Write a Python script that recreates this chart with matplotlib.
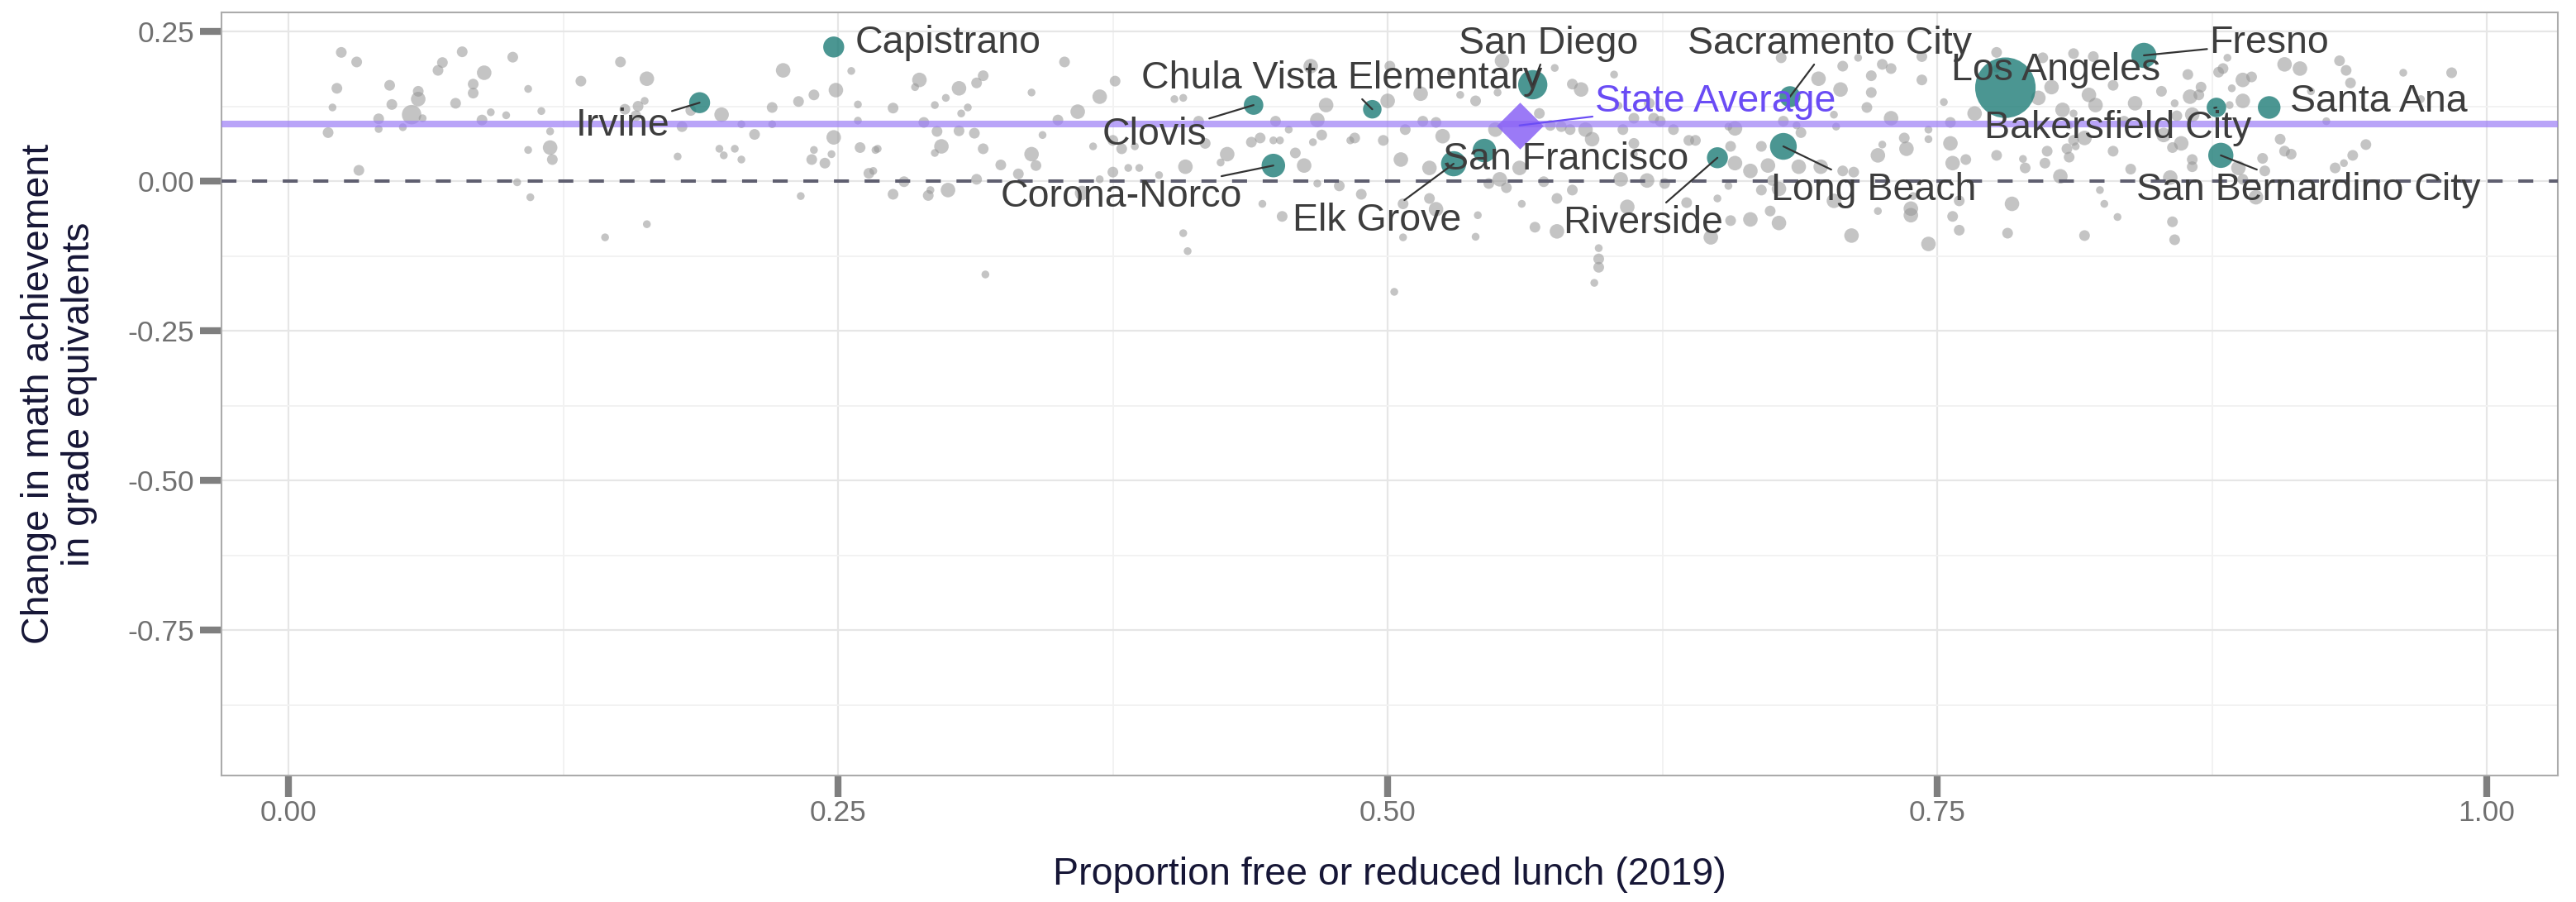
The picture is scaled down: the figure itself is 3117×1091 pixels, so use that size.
import numpy as np
import matplotlib
matplotlib.use("Agg")
import matplotlib.pyplot as plt

plt.rcParams['font.family'] = ['Liberation Sans', 'DejaVu Sans']

# highlighted districts: proportion FRL (2019), change in math (grade equivalents), enrollment (k)
names = ["Irvine", "Capistrano", "Clovis", "Chula Vista Elementary", "Corona-Norco",
         "San Diego", "Elk Grove", "San Francisco", "Riverside", "Sacramento City",
         "Long Beach", "Los Angeles", "Fresno", "Bakersfield City", "Santa Ana",
         "San Bernardino City"]
hl_frl = [0.187, 0.248, 0.439, 0.493, 0.448, 0.566, 0.530, 0.544, 0.650, 0.683,
          0.680, 0.781, 0.844, 0.877, 0.901, 0.879]
hl_change = [0.131, 0.224, 0.127, 0.120, 0.026, 0.161, 0.029, 0.051, 0.039, 0.141,
             0.058, 0.156, 0.210, 0.123, 0.123, 0.043]
hl_enroll = [65, 65, 55, 49, 84, 134, 97, 84, 65, 65, 111, 600, 97, 55, 77, 97]

# state average
state_frl = 0.560
state_change = 0.093
state_line = 0.095

# all other districts
grey_frl = [
    0.024, 0.031, 0.022, 0.020, 0.018, 0.032, 0.046, 0.047, 0.041, 0.041, 0.052, 0.059, 0.059, 0.056, 0.061, 0.070, 0.068,
    0.079, 0.089, 0.102, 0.084, 0.084, 0.109, 0.076, 0.088, 0.092, 0.099, 0.115, 0.119, 0.119, 0.120, 0.109, 0.104, 0.110,
    0.133, 0.151, 0.163, 0.162, 0.159, 0.153, 0.158, 0.183, 0.179, 0.197, 0.206, 0.212, 0.220, 0.177, 0.196, 0.198, 0.203,
    0.206, 0.144, 0.163,
    0.225, 0.220, 0.232, 0.239, 0.249, 0.256, 0.259, 0.275, 0.259, 0.248, 0.260, 0.267, 0.239, 0.247, 0.238, 0.244, 0.264,
    0.266, 0.280, 0.275, 0.233, 0.287, 0.305, 0.316, 0.313, 0.285, 0.299, 0.294, 0.309, 0.306, 0.289, 0.295, 0.305, 0.312,
    0.268, 0.297, 0.316, 0.294, 0.291, 0.292, 0.300, 0.313, 0.317,
    0.353, 0.338, 0.359, 0.369, 0.376, 0.350, 0.343, 0.338, 0.324, 0.340, 0.332, 0.366, 0.375, 0.379, 0.385, 0.382, 0.387,
    0.375, 0.369, 0.396, 0.408, 0.361, 0.407, 0.409, 0.443, 0.403, 0.407, 0.414, 0.427, 0.424, 0.417, 0.449, 0.455, 0.442,
    0.438, 0.448, 0.451, 0.458, 0.452,
    0.465, 0.462, 0.472, 0.468, 0.470, 0.466, 0.483, 0.485, 0.498, 0.500, 0.501, 0.508, 0.515, 0.516, 0.522, 0.525, 0.506,
    0.519, 0.519, 0.522, 0.488, 0.478, 0.468, 0.507, 0.507, 0.503, 0.541, 0.540, 0.533, 0.529, 0.540, 0.552, 0.550, 0.549,
    0.560, 0.551, 0.546, 0.554, 0.561, 0.567, 0.577, 0.571, 0.577, 0.584, 0.569, 0.574, 0.579, 0.583, 0.588, 0.584, 0.576,
    0.593, 0.590,
    0.603, 0.605, 0.596, 0.596, 0.596, 0.594, 0.607, 0.612, 0.606, 0.612, 0.609, 0.618, 0.626, 0.612, 0.621, 0.619, 0.640,
    0.630, 0.624, 0.647, 0.679, 0.707, 0.714, 0.725, 0.729, 0.743, 0.743, 0.720, 0.720, 0.696, 0.706, 0.718, 0.729, 0.703,
    0.704, 0.688, 0.686, 0.680, 0.658, 0.655, 0.637, 0.656, 0.670, 0.658, 0.665, 0.673, 0.687, 0.697, 0.707, 0.712, 0.703,
    0.678, 0.670, 0.675, 0.655, 0.650, 0.636, 0.656, 0.665, 0.674, 0.678, 0.711, 0.723, 0.738, 0.738, 0.746, 0.739,
    0.757, 0.760, 0.760, 0.782, 0.784, 0.817, 0.824, 0.757, 0.756, 0.763, 0.777, 0.746, 0.735, 0.736, 0.723, 0.725, 0.746,
    0.756, 0.767, 0.753, 0.777, 0.777, 0.789, 0.790, 0.799, 0.800, 0.806, 0.809, 0.810, 0.813, 0.810, 0.812, 0.807, 0.812,
    0.796, 0.802, 0.812, 0.798, 0.821, 0.819, 0.822, 0.817, 0.826, 0.830, 0.835, 0.840, 0.830, 0.838, 0.832,
    0.864, 0.880, 0.878, 0.882, 0.852, 0.865, 0.858, 0.869, 0.870, 0.884, 0.889, 0.893, 0.889, 0.883, 0.859, 0.866, 0.861,
    0.853, 0.857, 0.866, 0.866, 0.887, 0.889, 0.895, 0.899, 0.906, 0.908, 0.911, 0.898, 0.856, 0.857, 0.858, 0.908, 0.915,
    0.933, 0.936, 0.938, 0.962, 0.984, 0.927, 0.945, 0.939, 0.935, 0.931, 0.970, 0.920,
]
grey_change = [
    0.215, 0.199, 0.155, 0.123, 0.081, 0.018, 0.160, 0.128, 0.104, 0.087, 0.090, 0.150, 0.137, 0.111, 0.105, 0.198, 0.185,
    0.216, 0.181, 0.207, 0.162, 0.147, 0.154, 0.130, 0.102, 0.115, 0.110, 0.117, 0.083, 0.056, 0.036, 0.052, -0.002, -0.027,
    0.167, 0.199, 0.171, 0.134, 0.125, 0.120, 0.109, 0.118, 0.091, 0.111, 0.095, 0.078, 0.095, 0.041, 0.054, 0.043, 0.054,
    0.036, -0.094, -0.072,
    0.185, 0.123, 0.133, 0.144, 0.152, 0.184, 0.128, 0.122, 0.101, 0.073, 0.056, 0.052, 0.052, 0.045, 0.036, 0.030, 0.013,
    0.017, -0.001, -0.022, -0.025, 0.169, 0.155, 0.176, 0.164, 0.157, 0.139, 0.127, 0.123, 0.113, 0.098, 0.083, 0.084, 0.080,
    0.054, 0.058, 0.054, 0.047, -0.024, -0.015, -0.015, 0.003, -0.156,
    0.199, 0.148, 0.116, 0.141, 0.167, 0.102, 0.077, 0.045, 0.027, 0.026, 0.012, 0.058, 0.068, 0.054, 0.058, 0.022, 0.022,
    0.015, 0.003, 0.010, 0.024, -0.020, -0.087, -0.117, -0.038, 0.137, 0.139, 0.100, 0.045, 0.031, 0.063, 0.100, 0.086, 0.072,
    0.065, 0.068, 0.068, 0.047, -0.059,
    0.192, 0.026, 0.127, 0.102, 0.077, 0.065, 0.068, 0.072, 0.068, 0.134, 0.192, 0.086, 0.146, 0.100, 0.098, 0.075, 0.036,
    0.022, -0.029, -0.047, -0.022, -0.008, -0.004, -0.038, -0.094, -0.185, -0.057, -0.093, 0.144, 0.181, 0.134, 0.201, 0.148,
    0.086, 0.022, 0.003, -0.004, -0.011, -0.038, -0.077, -0.084, -0.001, -0.029, -0.015, 0.113, 0.093, 0.091, 0.086, 0.153,
    0.162, 0.189, 0.070, 0.086,
    0.178, 0.126, -0.112, -0.130, -0.144, -0.170, 0.086, 0.063, 0.003, 0.045, -0.043, 0.001, -0.004, 0.105, 0.105, 0.130,
    0.068, 0.086, 0.100, -0.094, 0.206, 0.192, 0.206, 0.195, 0.188, 0.208, 0.169, 0.176, 0.148, 0.171, 0.153, 0.123, 0.105,
    0.111, 0.091, 0.081, 0.093, 0.100, 0.088, 0.091, 0.068, 0.058, 0.058, 0.030, 0.017, 0.026, 0.024, 0.024, 0.017, 0.015,
    -0.033, -0.013, -0.015, 0.001, -0.008, -0.029, -0.036, -0.066, -0.064, -0.050, -0.070, -0.091, -0.050, -0.046, -0.057,
    -0.105, -0.025,
    -0.059, -0.082, -0.033, -0.087, -0.038, -0.091, -0.015, 0.030, 0.063, 0.036, 0.043, 0.070, 0.072, 0.054, 0.043, 0.061,
    0.086, 0.098, 0.113, 0.132, 0.215, 0.188, 0.037, 0.022, 0.030, 0.050, 0.008, 0.054, 0.040, 0.058, 0.093, 0.068, 0.119,
    0.113, 0.139, 0.157, 0.213, 0.206, 0.208, 0.144, 0.127, 0.072, -0.038, 0.160, 0.100, 0.130, 0.050, 0.020, -0.060,
    0.178, 0.188, 0.182, 0.206, 0.150, 0.141, 0.130, 0.144, 0.157, 0.155, 0.169, 0.174, 0.134, 0.127, 0.109, 0.111, 0.063,
    0.077, 0.056, 0.036, 0.024, 0.022, 0.003, -0.027, 0.017, 0.070, 0.050, 0.045, 0.038, 0.006, -0.068, -0.098, 0.195, 0.188,
    0.201, 0.185, 0.164, 0.181, 0.181, 0.100, 0.061, 0.043, 0.030, 0.022, 0.137, 0.150,
]
grey_enroll = [
    11, 11, 11, 2, 11, 11, 11, 11, 11, 2, 2, 11, 27, 55, 2, 11, 11,
    11, 27, 11, 11, 11, 2, 11, 11, 2, 2, 2, 2, 27, 11, 2, 2, 2,
    11, 11, 27, 2, 11, 11, 11, 11, 11, 27, 2, 11, 2, 2, 2, 2, 2,
    2, 2, 2,
    27, 11, 11, 11, 27, 2, 2, 11, 2, 27, 11, 2, 2, 2, 11, 11, 11,
    2, 11, 11, 2, 27, 27, 11, 11, 2, 2, 2, 2, 2, 11, 11, 11, 11,
    2, 27, 11, 2, 11, 2, 27, 11, 2,
    11, 2, 27, 27, 11, 11, 2, 27, 11, 11, 11, 2, 11, 11, 2, 2, 2,
    11, 2, 2, 27, 27, 2, 2, 2, 2, 2, 11, 27, 2, 11, 11, 2, 11,
    11, 2, 2, 11, 11,
    27, 27, 27, 27, 11, 2, 2, 11, 11, 27, 11, 11, 27, 11, 11, 27, 27,
    27, 11, 27, 11, 11, 2, 11, 2, 2, 2, 2, 2, 2, 11, 27, 2, 27,
    27, 27, 11, 11, 2, 11, 27, 11, 11, 11, 11, 11, 11, 11, 27, 11, 2,
    27, 27,
    2, 2, 2, 11, 11, 2, 11, 11, 27, 2, 27, 27, 11, 11, 11, 11, 11,
    11, 11, 27, 11, 11, 2, 11, 11, 11, 11, 11, 11, 27, 27, 11, 27, 2,
    2, 11, 2, 11, 27, 2, 11, 11, 11, 27, 27, 27, 27, 27, 11, 11, 27,
    27, 11, 11, 2, 2, 11, 11, 27, 11, 27, 27, 2, 27, 27, 27, 2,
    11, 11, 11, 11, 27, 11, 2, 27, 27, 11, 11, 2, 11, 27, 27, 2, 2,
    11, 27, 2, 11, 2, 2, 11, 11, 11, 27, 11, 11, 2, 2, 11, 27, 2,
    27, 27, 11, 11, 11, 27, 27, 27, 2, 11, 11, 27, 11, 11, 2,
    11, 11, 11, 2, 11, 27, 2, 11, 11, 2, 27, 11, 27, 2, 11, 27, 27,
    27, 11, 11, 11, 27, 11, 27, 11, 11, 11, 11, 11, 27, 11, 11, 27, 27,
    11, 11, 11, 2, 11, 2, 11, 11, 2, 11, 2, 2,
]

# label placement (text centre) and whether a leader line is drawn
label_x = [0.152, 0.300, 0.394, 0.479, 0.379, 0.573, 0.495, 0.581, 0.616, 0.701,
           0.721, 0.804, 0.901, 0.832, 0.951, 0.919]
label_y = [0.092, 0.231, 0.077, 0.171, -0.026, 0.229, -0.066, 0.036, -0.070, 0.229,
           -0.015, 0.185, 0.231, 0.088, 0.132, -0.015]
label_leader = [True, False, True, True, True, True, True, False, True, True,
                True, False, True, True, False, True]

DPI = 100
W, H = 3117, 1091


def enroll_to_s(e):
    # marker area grows with enrollment (diameter in px -> area in pt^2)
    d_px = np.sqrt(8.5 ** 2 + 8.8 * np.asarray(e, dtype=float))
    return (d_px * 72 / DPI) ** 2


fig = plt.figure(figsize=(W / DPI, H / DPI), dpi=DPI)
ax = fig.add_axes([268 / W, 1 - 938 / H, (3095 - 268) / W, (938 - 15) / H])

ax.set_xlim(-0.0305, 1.0323)
ax.set_ylim(-0.993, 0.2818)

ax.set_xticks([0, 0.25, 0.5, 0.75, 1.0])
ax.set_xticklabels(["0.00", "0.25", "0.50", "0.75", "1.00"])
ax.set_xticks([0.125, 0.375, 0.625, 0.875], minor=True)
ax.set_yticks([-0.75, -0.5, -0.25, 0, 0.25])
ax.set_yticklabels(["-0.75", "-0.50", "-0.25", "0.00", "0.25"])
ax.set_yticks([-0.875, -0.625, -0.375, -0.125, 0.125], minor=True)

ax.grid(which='major', color='#e6e6e6', lw=1.6, zorder=0)
ax.grid(which='minor', color='#f2f2f2', lw=1.4, zorder=0)
ax.set_axisbelow(True)

ax.tick_params(axis='both', which='major', length=18.7, width=6, color='#7f7f7f',
               labelsize=25.5, labelcolor='#707070')
ax.tick_params(axis='y', which='major', pad=5)
ax.tick_params(axis='x', which='major', pad=2)
ax.tick_params(which='minor', length=0)

for sp in ax.spines.values():
    sp.set_color('#ababab')
    sp.set_linewidth(1.5)

# other districts
ax.scatter(grey_frl, grey_change, s=enroll_to_s(grey_enroll), color='#959595',
           alpha=0.55, linewidths=0, zorder=2)

# reference lines
ax.axhline(0, color='#5f5f70', lw=2.9, ls=(0, (4.5, 4.7)), zorder=3)
ax.axhline(state_line, color='#9c7ef6', alpha=0.7, lw=5.8, zorder=3)

# highlighted districts
ax.scatter(hl_frl, hl_change, s=enroll_to_s(hl_enroll), color='#237f7a',
           alpha=0.82, linewidths=0, zorder=4)

# state average diamond
ax.scatter([state_frl], [state_change], marker='D', s=(40 * 72 / DPI) ** 2,
           color='#8a63f5', alpha=0.85, linewidths=0, zorder=5)

for i, name in enumerate(names):
    arrow = dict(arrowstyle='-', color='#333333', lw=1.6, shrinkA=0, shrinkB=0) if label_leader[i] else None
    ax.annotate(name, xy=(hl_frl[i], hl_change[i]), xytext=(label_x[i], label_y[i]),
                ha='center', va='center', fontsize=33.5, color='#3d3d3d',
                arrowprops=arrow, zorder=6)

ax.annotate("State Average", xy=(state_frl, state_change), xytext=(0.649, 0.1326),
            ha='center', va='center', fontsize=33.5, color='#6a4cf5',
            arrowprops=dict(arrowstyle='-', color='#6a4cf5', lw=1.6, shrinkA=0, shrinkB=0),
            zorder=6)

ax.set_xlabel("Proportion free or reduced lunch (2019)", fontsize=33.5, color='#161636', labelpad=26)
ax.set_ylabel("Change in math achievement\nin grade equivalents", fontsize=33.5, color='#161636',
              labelpad=26, linespacing=1.15)

fig.savefig("out.png", dpi=DPI)
